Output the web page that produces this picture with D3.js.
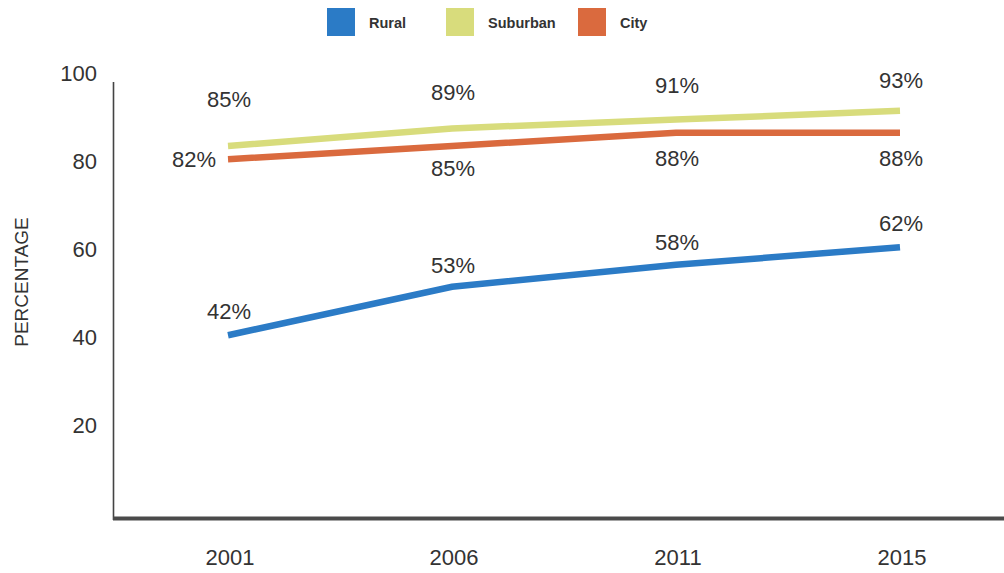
<!DOCTYPE html>
<html>
<head>
<meta charset="utf-8">
<script src="https://cdn.jsdelivr.net/npm/d3@7"></script>
<style>
  html, body { margin: 0; padding: 0; background: #fff; }
  svg { display: block; }
</style>
</head>
<body>
<svg id="chart" width="1004" height="573"></svg>
<script>
// ---- data ----
const years = ["2001", "2006", "2011", "2015"];
const rural = [42, 53, 58, 62];
const suburban = [85, 89, 91, 93];
const city = [82, 85, 88, 88];
const seriesNames = ["Rural", "Suburban", "City"];
const yTicks = [20, 40, 60, 80, 100];
const yLabel = "PERCENTAGE";

// ---- styling ----
const colors = { Rural: "#2b7bc6", Suburban: "#d8dc7c", City: "#da6a3e" };
const labelFont = "'Liberation Sans', Arial, sans-serif";

const svg = d3.select("#chart");
const x = d3.scalePoint().domain(years).range([228, 900]);
const y = d3.scaleLinear().domain([0, 100]).range([520, 80]);

const series = [
  { name: "Rural", values: rural },
  { name: "Suburban", values: suburban },
  { name: "City", values: city }
];

// axes
svg.append("line")
  .attr("x1", 113.5).attr("x2", 113.5)
  .attr("y1", y(100) + 2).attr("y2", y(0))
  .attr("stroke", "#444").attr("stroke-width", 1.6);
svg.append("line")
  .attr("x1", 113).attr("x2", 1004)
  .attr("y1", y(0) - 1.5).attr("y2", y(0) - 1.5)
  .attr("stroke", "#4a4a4a").attr("stroke-width", 4);

// y tick labels
svg.selectAll("text.ytick").data(yTicks).enter().append("text")
  .attr("class", "ytick")
  .attr("x", 97)
  .attr("y", d => y(d) - 7)
  .attr("dy", "0.35em")
  .attr("text-anchor", "end")
  .attr("font-family", labelFont)
  .attr("font-size", 22)
  .attr("fill", "#333")
  .text(d => d);

// x tick labels
svg.selectAll("text.xtick").data(years).enter().append("text")
  .attr("class", "xtick")
  .attr("x", d => x(d) + 2)
  .attr("y", 557)
  .attr("dy", "0.35em")
  .attr("text-anchor", "middle")
  .attr("font-family", labelFont)
  .attr("font-size", 22)
  .attr("fill", "#333")
  .text(d => d);

// y label
svg.append("text")
  .attr("transform", "translate(21,282) rotate(-90)")
  .attr("dy", "0.35em")
  .attr("text-anchor", "middle")
  .attr("font-family", labelFont)
  .attr("font-size", 19)
  .attr("fill", "#333")
  .text(yLabel);

// lines
const line = d3.line()
  .x((d, i) => x(years[i]))
  .y(d => y(d));

series.forEach(s => {
  svg.append("path")
    .datum(s.values)
    .attr("d", line)
    .attr("fill", "none")
    .attr("stroke", colors[s.name])
    .attr("stroke-width", 6.5)
    .attr("stroke-linecap", "butt");
});

// data labels
const labelDy = {
  Rural: [-24, -22, -23, -24],
  Suburban: [-47, -36, -34, -31],
  City: [0, 22, 25, 25]
};
series.forEach(s => {
  svg.selectAll("text.lbl-" + s.name).data(s.values).enter().append("text")
    .attr("class", "lbl-" + s.name)
    .attr("x", (d, i) => (s.name === "City" && i === 0) ? x(years[i]) - 12 : x(years[i]) + 1)
    .attr("y", (d, i) => y(d) + labelDy[s.name][i])
    .attr("dy", "0.35em")
    .attr("text-anchor", (d, i) => (s.name === "City" && i === 0) ? "end" : "middle")
    .attr("font-family", labelFont)
    .attr("font-size", 22)
    .attr("fill", "#333")
    .text(d => d + "%");
});

// legend
const legendX = [327, 446, 578];
const lg = svg.selectAll("g.legend").data(seriesNames).enter().append("g")
  .attr("class", "legend")
  .attr("transform", (d, i) => `translate(${legendX[i]},8)`);
lg.append("rect")
  .attr("width", 28).attr("height", 28)
  .attr("fill", d => colors[d]);
lg.append("text")
  .attr("x", 42).attr("y", 15)
  .attr("dy", "0.35em")
  .attr("font-family", labelFont)
  .attr("font-weight", "bold")
  .attr("font-size", 14.5)
  .attr("fill", "#333")
  .text(d => d);
</script>
</body>
</html>
